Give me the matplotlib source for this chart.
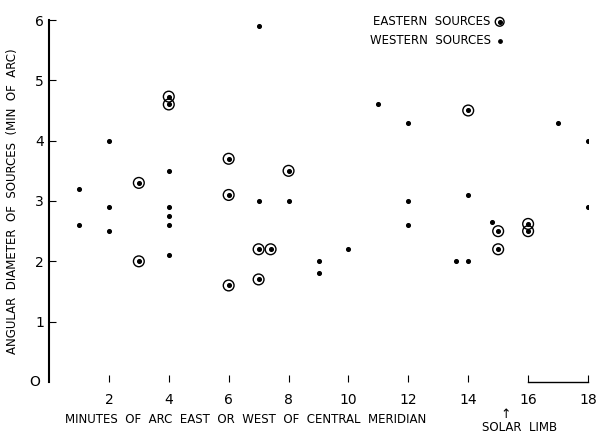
import matplotlib
matplotlib.use("Agg")
import matplotlib.pyplot as plt

east_x = [3, 3, 4, 4, 6, 6, 6, 7, 7, 7.4, 8, 14, 15, 15, 16, 16]
east_y = [3.3, 2.0, 4.73, 4.6, 3.7, 3.1, 1.6, 2.2, 1.7, 2.2, 3.5, 4.5, 2.5, 2.2, 2.62, 2.5]
west_x = [1, 1, 2, 2, 2, 4, 4, 4, 4, 4, 7, 7, 8, 9, 9, 10, 11, 12, 12, 12, 13.6, 14, 14, 14.8, 17, 18, 18]
west_y = [3.2, 2.6, 4.0, 2.9, 2.5, 3.5, 2.9, 2.75, 2.6, 2.1, 5.9, 3.0, 3.0, 2.0, 1.8, 2.2, 4.6, 4.3, 3.0, 2.6, 2.0, 2.0, 3.1, 2.65, 4.3, 4.0, 2.9]
xticks = [2, 4, 6, 8, 10, 12, 14, 16, 18]
yticks = [1, 2, 3, 4, 5, 6]

fig = plt.figure(figsize=(6.07, 4.36), dpi=100)
ax = fig.add_axes([49/607, 1-382/436, 539/607, 362/436])
ax.scatter(west_x, west_y, s=7, color='black', zorder=3)
ax.scatter(east_x, east_y, s=7, color='black', zorder=3)
ax.scatter(east_x, east_y, s=60, facecolors='none', edgecolors='black', linewidths=1.0, zorder=3)
ax.set_xlim(0, 18)
ax.set_ylim(0, 6)
for s in ['top', 'right', 'bottom']:
    ax.spines[s].set_visible(False)
ax.spines['left'].set_linewidth(1.5)
ax.set_xticks(xticks)
ax.set_xticklabels([str(t) for t in xticks], fontsize=10)
ax.set_yticks(yticks)
ax.set_yticklabels([str(t) for t in yticks], fontsize=10)
ax.tick_params(axis='x', direction='in', length=5, pad=8)
ax.tick_params(axis='y', direction='in', length=5)
ax.plot([16, 18], [0, 0], color='black', lw=1.0, clip_on=False)
fig.text(35/607, 1-382/436, 'O', fontsize=10, ha='center', va='center')
ax.set_xlabel('MINUTES  OF  ARC  EAST  OR  WEST  OF  CENTRAL  MERIDIAN', fontsize=8.5, ha='left')
ax.xaxis.set_label_coords(0.03, -0.085)
ax.set_ylabel('ANGULAR  DIAMETER  OF  SOURCES  (MIN  OF  ARC)', fontsize=8.5)
ax.yaxis.set_label_coords(-0.055, 0.5)
fig.text(506/607, 1-414/436, '↑', fontsize=9, ha='center', va='center')
fig.text(482/607, 1-427/436, 'SOLAR  LIMB', fontsize=8.5, ha='left', va='center')
ax.text(14.75, 5.97, 'EASTERN  SOURCES', fontsize=8.5, ha='right', va='center')
ax.text(14.75, 5.66, 'WESTERN  SOURCES', fontsize=8.5, ha='right', va='center')
ax.scatter([15.05], [5.97], s=7, color='black', clip_on=False)
ax.scatter([15.05], [5.97], s=40, facecolors='none', edgecolors='black', clip_on=False)
ax.scatter([15.05], [5.66], s=6, color='black', clip_on=False)
fig.savefig('out.png', dpi=100)
